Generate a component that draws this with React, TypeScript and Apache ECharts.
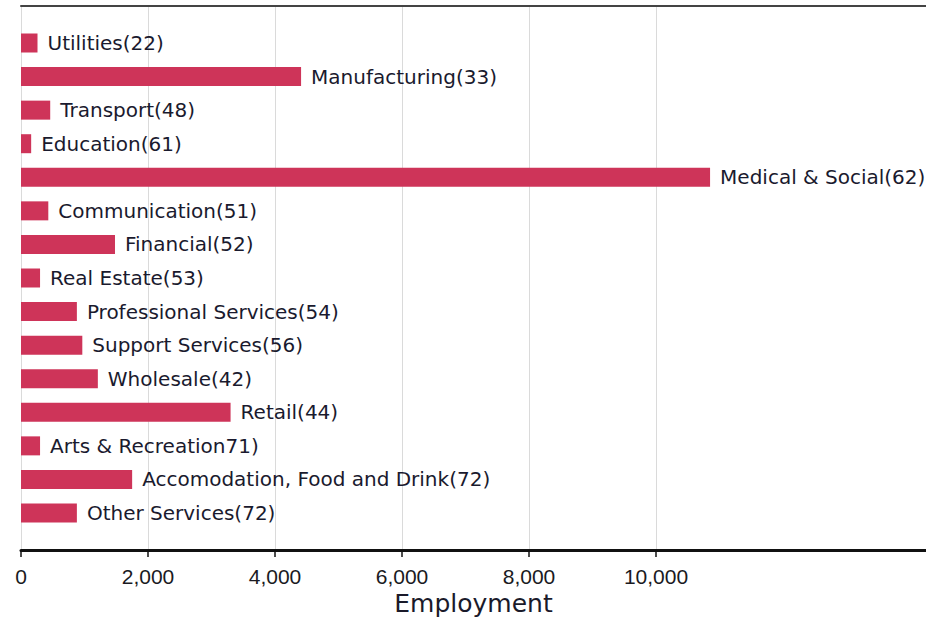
import React, { useEffect, useRef } from "react";
import * as echarts from "echarts";

const categories = [
  "Utilities(22)",
  "Manufacturing(33)",
  "Transport(48)",
  "Education(61)",
  "Medical & Social(62)",
  "Communication(51)",
  "Financial(52)",
  "Real Estate(53)",
  "Professional Services(54)",
  "Support Services(56)",
  "Wholesale(42)",
  "Retail(44)",
  "Arts & Recreation71)",
  "Accomodation, Food and Drink(72)",
  "Other Services(72)",
];

const employment = [260, 4410, 460, 160, 10850, 430, 1480, 300, 880, 965, 1210, 3300, 300, 1750, 880];

const tickMax = 10000;
const tickInterval = 2000;
const axisMax = 14250;

export default function App() {
  const ref = useRef<HTMLDivElement>(null);

  useEffect(() => {
    document.body.style.margin = "0";
    if (!ref.current) return;
    const chart = echarts.init(ref.current, undefined, { renderer: "svg" });
    const option = {
      animation: false,
      backgroundColor: "#ffffff",
      grid: [
        { left: 21, top: 5.5, width: 635, bottom: 73 },
        { left: 21, right: 0, top: 5.5, bottom: 73 },
        { left: 21, right: 0, top: 26.2, bottom: 93.2 },
      ],
      xAxis: [
        {
          gridIndex: 0,
          type: "value",
          min: 0,
          max: tickMax,
          interval: tickInterval,
          position: "bottom",
          axisLine: { show: false, onZero: false },
          axisTick: { show: true, length: 7, lineStyle: { color: "#111", width: 1.5 } },
          axisLabel: {
            margin: 16,
            fontSize: 21,
            fontFamily: "Liberation Sans",
            color: "#1a1a22",
            formatter: (v: number) => v.toLocaleString("en-US"),
          },
          splitLine: { show: true, lineStyle: { color: "#dadada", width: 1 } },
        },
        {
          gridIndex: 1,
          type: "value",
          min: 0,
          max: axisMax,
          position: "bottom",
          axisLine: { show: true, onZero: false, lineStyle: { color: "#111", width: 3 } },
          axisTick: { show: false },
          axisLabel: { show: false },
          splitLine: { show: false },
          name: "Employment",
          nameLocation: "middle",
          nameGap: 41,
          nameTextStyle: { fontSize: 25, fontFamily: "DejaVu Sans", color: "#1a1a2a" },
        },
        {
          gridIndex: 1,
          type: "value",
          min: 0,
          max: axisMax,
          position: "top",
          axisLine: { show: true, onZero: false, lineStyle: { color: "#444", width: 2 } },
          axisTick: { show: false },
          axisLabel: { show: false },
          splitLine: { show: false },
        },
        {
          gridIndex: 2,
          type: "value",
          min: 0,
          max: axisMax,
          show: false,
          splitLine: { show: false },
        },
      ],
      yAxis: [
        { gridIndex: 0, type: "value", min: 0, max: 1, show: false, splitLine: { show: false } },
        { gridIndex: 1, type: "value", min: 0, max: 1, show: false, splitLine: { show: false } },
        {
          gridIndex: 2,
          type: "category",
          data: categories,
          inverse: true,
          show: false,
        },
      ],
      series: [
        {
          type: "bar",
          xAxisIndex: 3,
          yAxisIndex: 2,
          data: employment,
          barWidth: 19,
          itemStyle: { color: "#ce3459" },
          label: {
            show: true,
            position: "right",
            distance: 10,
            formatter: "{b}",
            fontSize: 20,
            fontFamily: "DejaVu Sans",
            color: "#1a1a2e",
          },
        },
      ],
    };
    chart.setOption(option);
    return () => chart.dispose();
  }, []);

  return <div ref={ref} style={{ width: 926, height: 623 }} />;
}
